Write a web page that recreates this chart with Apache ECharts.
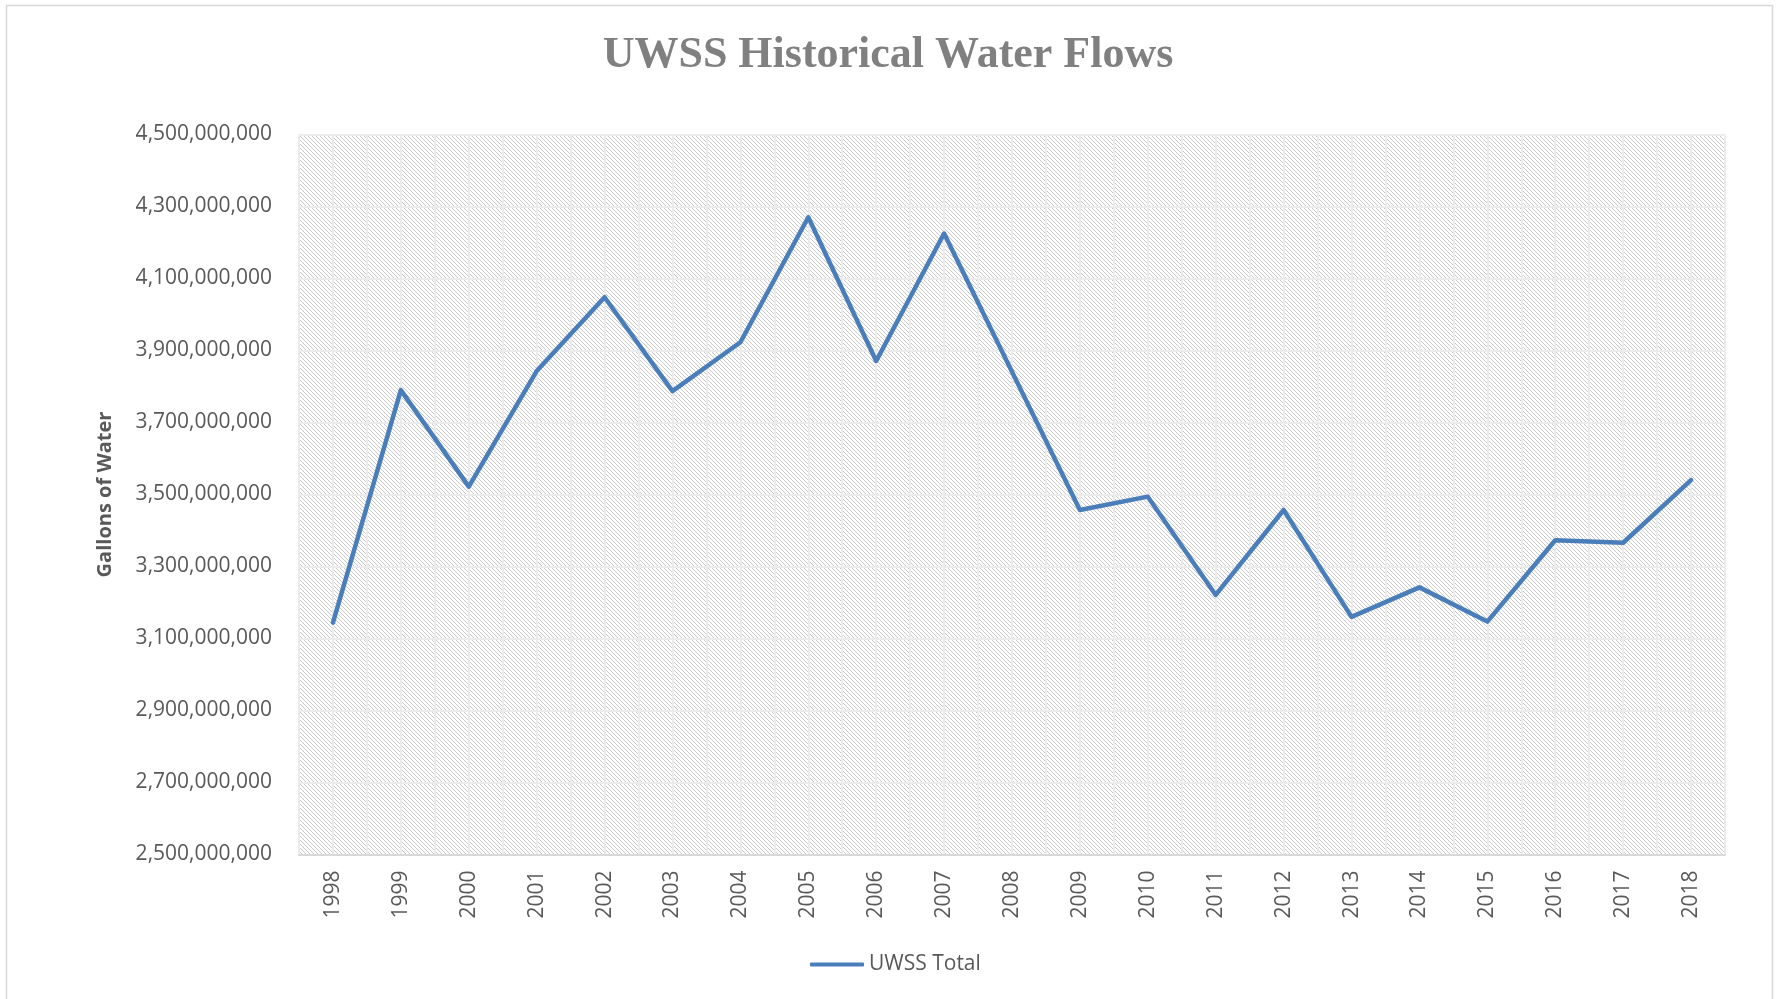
<!DOCTYPE html>
<html>
<head>
<meta charset="utf-8">
<script src="https://cdn.jsdelivr.net/npm/echarts@6/dist/echarts.min.js"></script>
<style>
  html, body { margin: 0; padding: 0; background: #ffffff; }
  #chart { width: 1776px; height: 999px; }
</style>
</head>
<body>
<div id="chart"></div>
<script>
// ---- data ----
const years = ['1998','1999','2000','2001','2002','2003','2004','2005','2006','2007','2008',
               '2009','2010','2011','2012','2013','2014','2015','2016','2017','2018'];
const uwssTotal = [3144000000, 3790000000, 3522000000, 3843000000, 4048000000, 3787000000,
                   3923000000, 4270000000, 3871000000, 4225000000, 3841000000, 3457000000,
                   3494000000, 3221000000, 3457000000, 3160000000, 3242000000, 3147000000,
                   3373000000, 3366000000, 3540000000];
const yTicks = [2500000000, 2700000000, 2900000000, 3100000000, 3300000000, 3500000000,
                3700000000, 3900000000, 4100000000, 4300000000, 4500000000];
const seriesName = 'UWSS Total';
const chartTitle = 'UWSS Historical Water Flows';
const yAxisTitle = 'Gallons of Water';

// ---- hatch pattern for plot area ----
function makeHatch() {
  const c = document.createElement('canvas');
  c.width = 8; c.height = 8;
  const ctx = c.getContext('2d');
  ctx.fillStyle = '#ffffff';
  ctx.fillRect(0, 0, 8, 8);
  ctx.fillStyle = '#c9c9c9';
  for (let y = 0; y < 8; y++) {
    for (let x = 0; x < 8; x++) {
      if (((x - y) % 4 + 4) % 4 === 0) ctx.fillRect(x, y, 1, 1);
    }
  }
  return c;
}

const FONT = '"Open Sans", "Liberation Sans", sans-serif';
const chart = echarts.init(document.getElementById('chart'), null, { renderer: 'canvas' });

const fmt = v => Math.round(v).toString().replace(/\B(?=(\d{3})+(?!\d))/g, ',');

chart.setOption({
  backgroundColor: '#ffffff',
  animation: false,
  title: {
    text: chartTitle,
    left: 'center',
    top: 29,
    textStyle: {
      fontFamily: '"Liberation Serif", "DejaVu Serif", serif',
      fontWeight: 'bold',
      fontSize: 44,
      color: '#808080'
    }
  },
  legend: {
    data: [{ name: seriesName, icon: 'roundRect' }],
    left: 805,
    top: 949,
    itemWidth: 54,
    itemHeight: 4,
    textStyle: { fontFamily: FONT, fontSize: 21, color: '#595959' }
  },
  graphic: [{
    type: 'rect',
    shape: { x: 6.5, y: 5.5, width: 1766, height: 1010 },
    style: { fill: 'none', stroke: '#d9d9d9', lineWidth: 1.5 },
    silent: true,
    z: 100
  }],
  grid: {
    left: 299, right: 51, top: 134.5, bottom: 144.5,
    show: true,
    backgroundColor: { image: makeHatch(), repeat: 'repeat' },
    borderWidth: 0
  },
  xAxis: [{
    type: 'category',
    data: years,
    boundaryGap: true,
    axisLine: { show: true, lineStyle: { color: '#d9d9d9', width: 2 } },
    axisTick: { show: false },
    splitLine: { show: false },
    axisLabel: {
      rotate: 90,
      margin: 16,
      fontFamily: FONT,
      fontSize: 21,
      color: '#595959',
      interval: 0
    },
    z: 5
  }, {
    type: 'value',
    min: -0.5,
    max: 20.5,
    interval: 0.5,
    position: 'bottom',
    axisLine: { show: false },
    axisTick: { show: false },
    axisLabel: { show: false },
    splitLine: { show: true, lineStyle: { color: '#ececec', width: 2 } }
  }],
  yAxis: {
    type: 'value',
    min: 2500000000,
    max: 4500000000,
    interval: 200000000,
    name: yAxisTitle,
    nameLocation: 'middle',
    nameGap: 184,
    nameTextStyle: { fontFamily: FONT, fontSize: 20, fontWeight: 'bold', color: '#595959' },
    axisLine: { show: false },
    axisTick: { show: false, customValues: yTicks },
    axisLabel: {
      customValues: yTicks,
      formatter: fmt,
      margin: 27,
      fontFamily: FONT,
      fontSize: 21,
      color: '#595959'
    },
    splitLine: { show: true, lineStyle: { color: '#ececec', width: 2 } }
  },
  series: [{
    name: seriesName,
    type: 'line',
    xAxisIndex: 0,
    data: uwssTotal,
    symbol: 'none',
    smooth: false,
    lineStyle: { color: '#4a7ebb', width: 4.5, join: 'round', cap: 'round' },
    itemStyle: { color: '#4a7ebb' },
    z: 10
  }]
});
</script>
</body>
</html>
